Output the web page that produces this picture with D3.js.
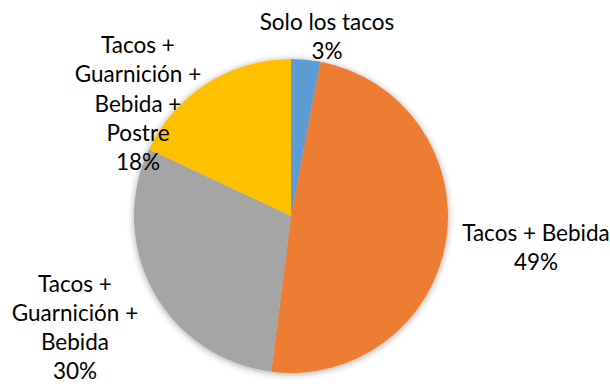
<!DOCTYPE html>
<html><head><meta charset="utf-8">
<script src="https://cdn.jsdelivr.net/npm/d3@7"></script>
<style>html,body{margin:0;padding:0;background:#fff;}svg{display:block;}</style>
</head><body>
<svg id="chart" width="610" height="384"></svg>
<script>
const categories = ["Solo los tacos", "Tacos + Bebida", "Tacos + Guarnición + Bebida", "Tacos + Guarnición + Bebida + Postre"];
const values = [3, 49, 30, 18];
const colors = ["#5B9BD5", "#ED7D31", "#A5A5A5", "#FFC000"];
const labelLines = [
  ["Solo los tacos", "3%"],
  ["Tacos + Bebida", "49%"],
  ["Tacos +", "Guarnición +", "Bebida", "30%"],
  ["Tacos +", "Guarnición +", "Bebida +", "Postre", "18%"]
];
// label anchor: center x, first baseline y, line height
const labelPos = [[327, 30, 28.5], [536, 241, 29], [75, 292, 29], [138, 53, 29.3]];

const svg = d3.select("#chart");
const cx = 291, cy = 216, r = 157;

const defs = svg.append("defs");
const f = defs.append("filter").attr("id", "shadow").attr("x", "-20%").attr("y", "-20%").attr("width", "140%").attr("height", "140%");
f.append("feDropShadow").attr("dx", 0).attr("dy", 1).attr("stdDeviation", 3.5).attr("flood-color", "#000").attr("flood-opacity", 0.35);

const pie = d3.pie().sort(null).value(d => d)(values);
const arc = d3.arc().innerRadius(0).outerRadius(r);
const g = svg.append("g").attr("transform", `translate(${cx},${cy})`).attr("filter", "url(#shadow)");
g.selectAll("path").data(pie).join("path")
  .attr("d", arc)
  .attr("fill", (d, i) => colors[i]);

const lab = svg.append("g").attr("font-family", "Lato, 'Open Sans', sans-serif").attr("font-size", 22.5).attr("fill", "#000").attr("text-anchor", "middle");
labelLines.forEach((lines, i) => {
  const [x, y, lh] = labelPos[i];
  const t = lab.append("text").attr("x", x).attr("y", y);
  lines.forEach((s, j) => {
    t.append("tspan").attr("x", x).attr("dy", j === 0 ? 0 : lh).text(s);
  });
});
</script>
</body></html>
